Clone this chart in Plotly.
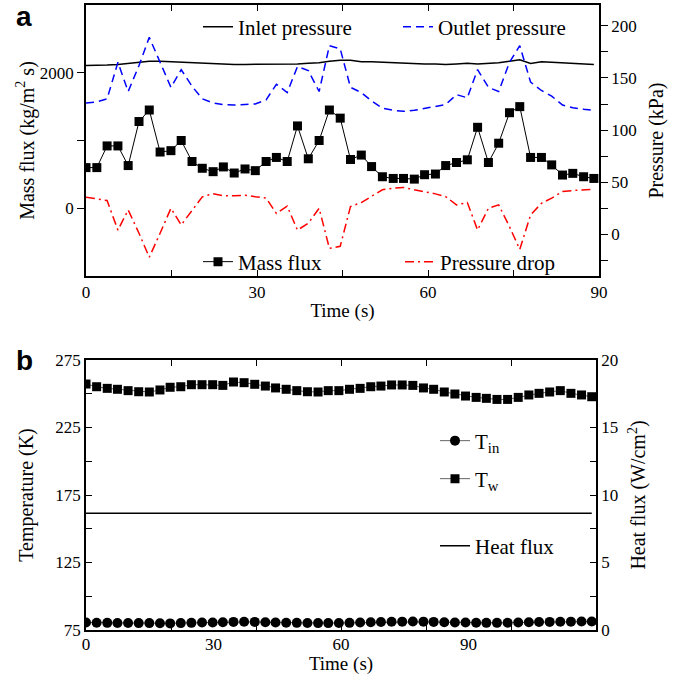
import plotly.graph_objects as go

# ---------------- Panel a data ----------------
t_a = [0, 1.9, 3.7, 5.6, 7.4, 9.3, 11.1, 13.0, 14.9, 16.7,
       18.6, 20.4, 22.3, 24.1, 26.0, 27.9, 29.7, 31.6, 33.4, 35.3,
       37.1, 39.0, 40.9, 42.7, 44.6, 46.4, 48.3, 50.1, 52.0, 53.9,
       55.7, 57.6, 59.4, 61.3, 63.1, 65.0, 66.9, 68.7, 70.6, 72.4,
       74.3, 76.1, 78.0, 79.9, 81.7, 83.6, 85.4, 87.3, 89.1]
mass_flux = [600, 600, 920, 920, 630, 1280, 1450, 830, 850, 1000,
             690, 590, 540, 610, 520, 580, 555, 690, 750, 690,
             1215, 730, 1000, 1450, 1330, 720, 785, 615, 465, 440,
             440, 430, 495, 505, 630, 675, 715, 1195, 675, 960,
             1410, 1500, 750, 750, 640, 490, 515, 465, 440]
inlet_p = [162, 162, 162.5, 163, 164, 165, 166, 166, 165.5, 165.5,
           165, 164.5, 164, 163.5, 163, 163, 163, 163, 163, 163,
           163.5, 164, 164.5, 166, 167, 167, 165.5, 165.5, 165, 164.5,
           164, 164, 163.5, 163.5, 163, 163.5, 164, 163.5, 164, 164.5,
           166, 167.5, 164, 165.5, 165, 164.5, 164, 163.5, 163]
outlet_p = [126, 127, 130, 165, 137, 162, 189, 165, 141, 158,
            142, 130, 126, 124.5, 124, 124.5, 125, 129, 144, 136,
            161, 157, 137, 181, 178, 141, 136, 128, 121, 119,
            118, 119, 121, 122.5, 124.5, 134, 131, 158, 141, 137,
            165, 181, 146, 138, 132.5, 124, 121.5, 120, 119]
pressure_drop = [35.6, 34, 32.4, 4, 23.4, 1, -22, 1, 25, 9,
                 23.4, 36, 39, 37, 37, 37.5, 36, 34.7, 20, 27,
                 4, 10.6, 25, -13.5, -11.5, 26.6, 30.5, 36.2, 42.7, 44.3,
                 45, 42.7, 41, 38.8, 36.2, 28.2, 30.5, 4.1, 25, 28.2,
                 7.3, -14.5, 18.6, 29.8, 34.7, 41, 42, 42.7, 43.3]

# ---------------- Panel b data ----------------
t_b = [0, 2.5, 5.0, 7.4, 9.9, 12.4, 14.9, 17.4, 19.8, 22.3,
       24.8, 27.3, 29.8, 32.2, 34.7, 37.2, 39.7, 42.2, 44.6, 47.1,
       49.6, 52.1, 54.6, 57.0, 59.5, 62.0, 64.5, 67.0, 69.4, 71.9,
       74.4, 76.9, 79.4, 81.8, 84.3, 86.8, 89.3, 91.8, 94.2, 96.7,
       99.2, 101.7, 104.2, 106.6, 109.1, 111.6, 114.1, 116.6, 119.0]
T_in = [80.6, 80.4, 80.3, 80.2, 80.2, 80.1, 80.1, 80.0, 79.9, 80.1,
        80.3, 80.5, 80.6, 80.8, 81.0, 81.1, 81.0, 80.8, 80.6, 80.4,
        80.3, 80.2, 80.1, 80.1, 80.2, 80.3, 80.5, 80.7, 80.9, 81.1,
        81.2, 81.3, 81.2, 81.0, 80.8, 80.6, 80.5, 80.4, 80.3, 80.3,
        80.4, 80.5, 80.7, 80.9, 81.0, 81.1, 81.2, 81.3, 81.3]
T_w = [257.2, 255.2, 254.0, 253.3, 252.3, 251.5, 251.3, 252.8, 254.8, 255.2,
       256.7, 256.7, 256.7, 256.2, 258.7, 258.2, 257.0, 255.7, 254.3, 253.3,
       252.3, 251.5, 251.3, 252.3, 252.3, 253.3, 254.0, 255.2, 255.7, 256.5,
       256.5, 256.2, 254.3, 253.3, 251.3, 249.8, 248.3, 247.3, 246.6, 245.8,
       245.8, 247.3, 249.1, 250.3, 251.3, 252.3, 250.3, 249.1, 247.8]
heat_flux = [8.64, 8.64, 8.65, 8.65, 8.65, 8.65, 8.65, 8.65, 8.65, 8.65,
             8.66, 8.66, 8.66, 8.66, 8.67, 8.67, 8.66, 8.66, 8.66, 8.66,
             8.65, 8.65, 8.65, 8.65, 8.65, 8.66, 8.66, 8.67, 8.67, 8.66,
             8.66, 8.66, 8.65, 8.65, 8.65, 8.65, 8.65, 8.64, 8.64, 8.64,
             8.64, 8.64, 8.65, 8.65, 8.65, 8.65, 8.65, 8.65, 8.65]

SERIF = "Liberation Serif"
TICKF = dict(family=SERIF, size=17, color="black")
TITLEF = dict(family=SERIF, size=20, color="black")
XTITLEF = dict(family=SERIF, size=19, color="black")
LEGF = dict(family=SERIF, size=21, color="black")

fig = go.Figure()

# Panel a traces
fig.add_trace(go.Scatter(x=t_a, y=inlet_p, xaxis="x", yaxis="y2", mode="lines",
                         line=dict(color="black", width=1.5),
                         name="Inlet pressure", legend="legend"))
fig.add_trace(go.Scatter(x=t_a, y=outlet_p, xaxis="x", yaxis="y2", mode="lines",
                         line=dict(color="#0000ff", width=1.5, dash="8px,5px"),
                         name="Outlet pressure", legend="legend2"))
fig.add_trace(go.Scatter(x=t_a, y=pressure_drop, xaxis="x", yaxis="y2", mode="lines",
                         line=dict(color="#ff0000", width=1.5, dash="9px,4px,2px,4px"),
                         name="Pressure drop", legend="legend4"))
fig.add_trace(go.Scatter(x=t_a, y=mass_flux, xaxis="x", yaxis="y", mode="lines+markers",
                         line=dict(color="black", width=1),
                         marker=dict(symbol="square", size=9, color="black"),
                         name="Mass flux", legend="legend3"))

# Panel b traces
fig.add_trace(go.Scatter(x=t_b, y=T_in, xaxis="x2", yaxis="y3", mode="lines+markers",
                         line=dict(color="#666666", width=1),
                         marker=dict(symbol="circle", size=10, color="black"),
                         name="T<sub>in</sub>", legend="legend5"))
fig.add_trace(go.Scatter(x=t_b, y=T_w, xaxis="x2", yaxis="y3", mode="lines+markers",
                         line=dict(color="#666666", width=1),
                         marker=dict(symbol="square", size=9, color="black"),
                         name="T<sub>w</sub>", legend="legend6"))
fig.add_trace(go.Scatter(x=t_b, y=heat_flux, xaxis="x2", yaxis="y4", mode="lines",
                         line=dict(color="black", width=1.5),
                         name="Heat flux", legend="legend7"))

AX = dict(showline=True, linecolor="black", linewidth=1.5, showgrid=False,
          zeroline=False, tickfont=TICKF, tickcolor="black", tickwidth=1.2,
          automargin=False)

W_PLOT = 513.0
H_PLOT = 625.0
L_M, T_M = 86, 5


def px_x(p):
    return (p - L_M) / W_PLOT


def px_y(p):
    return (H_PLOT + T_M - p) / H_PLOT


dom_a = [px_y(276), 1.0]
dom_b = [0.0, px_y(360)]

fig.update_layout(
    width=677, height=675,
    margin=dict(l=L_M, r=78, t=T_M, b=45, autoexpand=False),
    paper_bgcolor="white", plot_bgcolor="white",
    showlegend=True,
    font=dict(family=SERIF, color="black"),
    xaxis=dict(AX, domain=[0, 1], anchor="y", range=[0, 90],
               tickmode="array", tickvals=[0, 30, 60, 90],
               ticks="inside", ticklen=6, mirror="allticks",
               minor=dict(tickmode="array", tickvals=[15, 45, 75],
                          ticks="inside", ticklen=6, tickcolor="black"),
               title=dict(text="Time (s)", font=XTITLEF, standoff=3)),
    yaxis=dict(AX, domain=dom_a, anchor="x", range=[-1000, 3000],
               tickmode="array", tickvals=[0, 2000],
               ticks="outside", ticklen=7,
               minor=dict(tickmode="array", tickvals=[1000],
                          ticks="outside", ticklen=7, tickcolor="black"),
               title=dict(text="Mass flux (kg/m<sup>2</sup> s)", font=TITLEF, standoff=0)),
    yaxis2=dict(AX, domain=dom_a, anchor="x", overlaying="y", side="right",
                range=[-40, 220], tickmode="array", tickvals=[0, 50, 100, 150, 200],
                ticks="outside", ticklen=7,
                minor=dict(tickmode="array", tickvals=[-25, 25, 75, 125, 175],
                           ticks="outside", ticklen=7, tickcolor="black"),
                title=dict(text="Pressure (kPa)", font=TITLEF, standoff=13)),
    xaxis2=dict(AX, domain=[0, px_x(596)], anchor="y3", range=[0, 120],
                tickmode="array", tickvals=[0, 30, 60, 90],
                ticks="", mirror="allticks", ticklabelstandoff=-2,
                minor=dict(tickmode="array", tickvals=[20, 40, 60.0001, 80, 100],
                           ticks="inside", ticklen=6, tickcolor="black"),
                title=dict(text="Time (s)", font=XTITLEF, standoff=5)),
    yaxis3=dict(AX, domain=dom_b, anchor="x2", range=[75, 275],
                tickmode="array", tickvals=[75, 125, 175, 225, 275],
                ticks="inside", ticklen=6,
                minor=dict(tickmode="array", tickvals=[100, 150, 200, 250],
                           ticks="inside", ticklen=6, tickcolor="black"),
                title=dict(text="Temperature (K)", font=TITLEF, standoff=16)),
    yaxis4=dict(AX, domain=dom_b, anchor="x2", overlaying="y3", side="right",
                range=[0, 20], tickmode="array", tickvals=[0, 5, 10, 15, 20],
                ticks="inside", ticklen=6,
                minor=dict(tickmode="array", tickvals=[2.5, 7.5, 12.5, 17.5],
                           ticks="inside", ticklen=6, tickcolor="black"),
                title=dict(text="Heat flux (W/cm<sup>2</sup>)", font=TITLEF, standoff=14)),
)


def leg(text_px, center_px):
    return dict(x=px_x(text_px - 40), y=px_y(center_px), xanchor="left", yanchor="middle",
                bgcolor="rgba(0,0,0,0)", borderwidth=0, font=LEGF,
                orientation="v", visible=True)


fig.update_layout(
    legend=leg(238, 27),
    legend2=leg(438, 27),
    legend3=leg(238, 262),
    legend4=leg(440, 262),
    legend5=leg(475, 441),
    legend6=leg(475, 479),
    legend7=leg(475, 546),
)

fig.add_annotation(text="<b>a</b>", xref="paper", yref="paper", x=px_x(24), y=px_y(17),
                   xanchor="center", yanchor="middle", showarrow=False,
                   font=dict(family="Liberation Sans", size=28, color="black"))
fig.add_annotation(text="<b>b</b>", xref="paper", yref="paper", x=px_x(24), y=px_y(360),
                   xanchor="center", yanchor="middle", showarrow=False,
                   font=dict(family="Liberation Sans", size=28, color="black"))

fig.write_html("out.html")
